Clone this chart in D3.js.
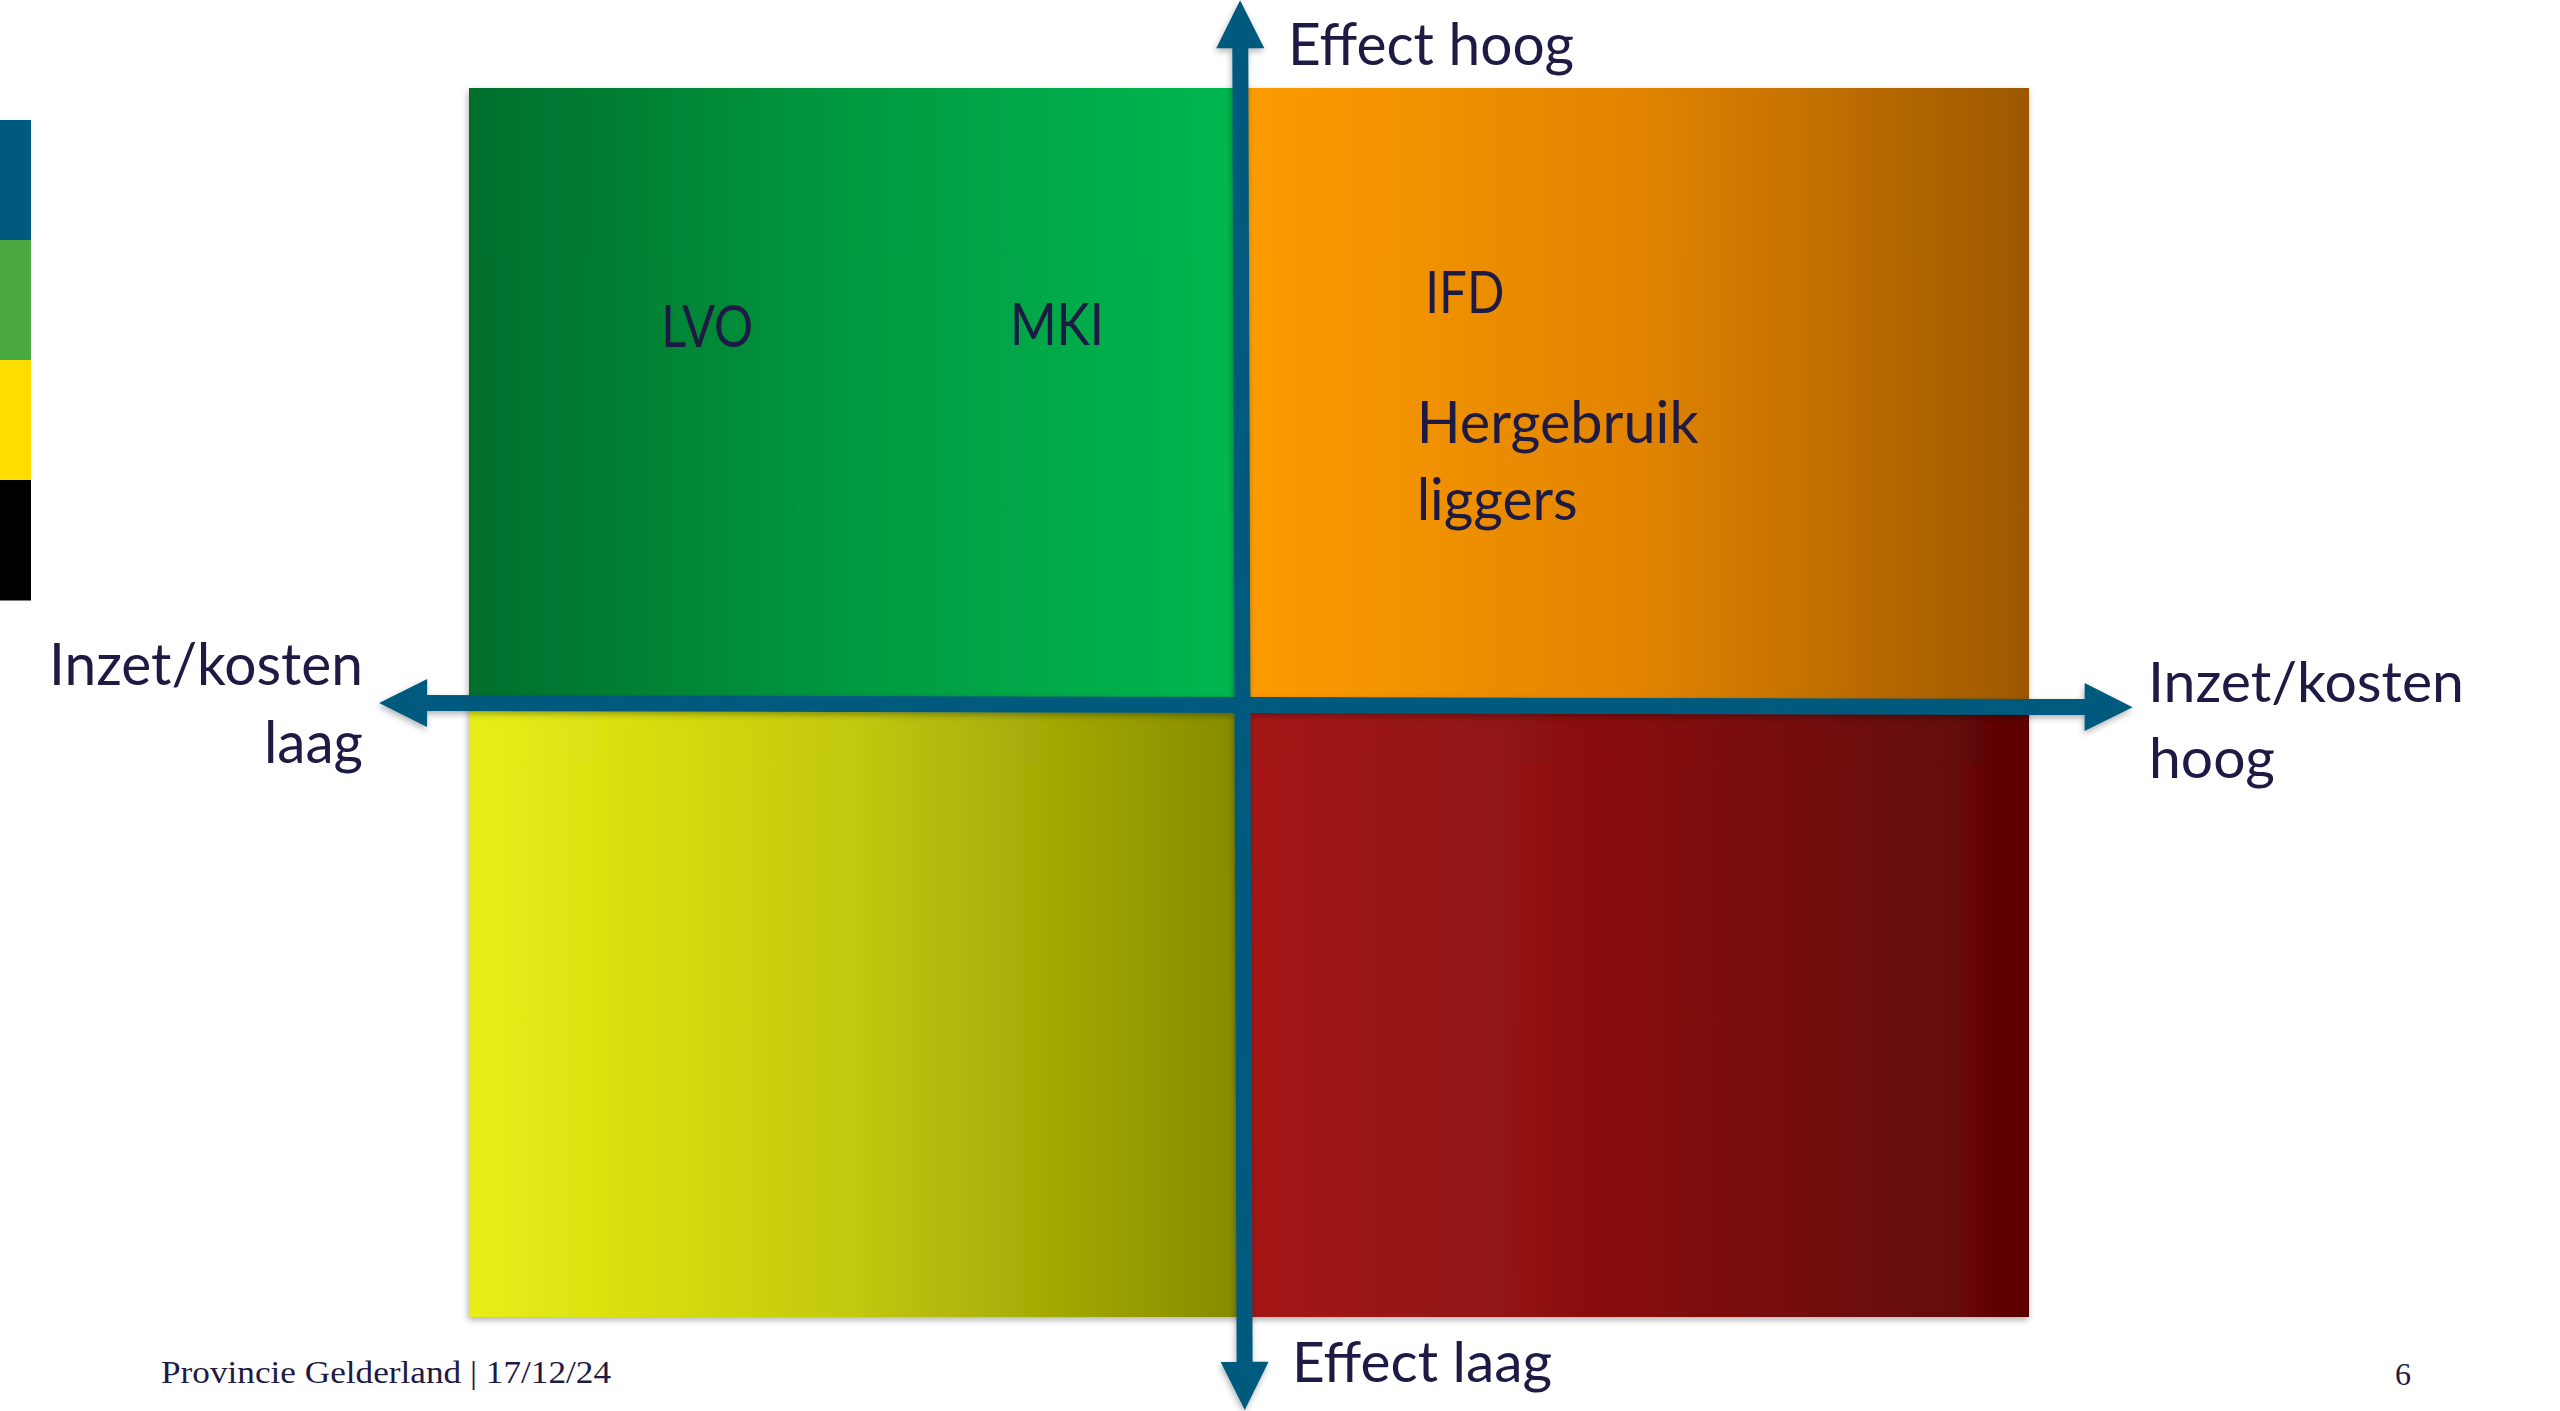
<!DOCTYPE html>
<html>
<head>
<meta charset="utf-8">
<script src="https://cdn.jsdelivr.net/npm/d3@7"></script>
<style>
    html, body { margin: 0; padding: 0; background: #ffffff; overflow: hidden; }
    .lbl { font-family: Lato, "Open Sans", sans-serif; fill: #1d1a43; }
    .foot { font-family: "Liberation Serif", "DejaVu Serif", serif; fill: #1d1a43; }
</style>
</head>
<body>
<div id="chart"></div>
<script>

// Chart data
// ============================================

// quadrants: inzet/kosten (x) and effect (y) on a -1..1 scale
var quadrantNames = ["Laag inzet, hoog effect", "Hoog inzet, hoog effect", "Laag inzet, laag effect", "Hoog inzet, laag effect"];
var quadrantX = [[-1, 0], [0, 1], [-1, 0], [0, 1]];
var quadrantY = [[0, 1], [0, 1], [-1, 0], [-1, 0]];
var quadrantColors = [
    ["#006e2c", "#009a40", "#00b84f"],
    ["#fc9c00", "#e28400", "#9c5800"],
    ["#e8ef14", "#c2c80c", "#858a00"],
    ["#a51616", "#861010", "#5c0505"]
];

// measures placed in the matrix (x = inzet, y = effect)
var itemNames = ["LVO", "MKI", "IFD", "Hergebruik", "liggers"];
var itemInzet = [-0.752, -0.302, 0.231, 0.220, 0.220];
var itemEffect = [0.581, 0.584, 0.636, 0.426, 0.301];

// axis labels
var axisLabels = ["Effect hoog", "Effect laag", "Inzet/kosten", "laag", "Inzet/kosten", "hoog"];

// footer
var footerText = "Provincie Gelderland | 17/12/24";
var pageNumber = "6";

// brand strip at the left
var brandColors = ["#005a80", "#4aa942", "#ffdd00", "#000000"];

// SVG set up
// ============================================
var svgWidth = 2560;
var svgHeight = 1411;
var arrowColor = "#005a7d";

var svg = d3.select("#chart")
    .append("svg")
    .attr("width", svgWidth)
    .attr("height", svgHeight);

var defs = svg.append("defs");

// soft drop shadow like the slide shapes
var shadow = defs.append("filter")
    .attr("id", "shadow")
    .attr("x", "-10%").attr("y", "-10%")
    .attr("width", "120%").attr("height", "120%");
shadow.append("feDropShadow")
    .attr("dx", -1).attr("dy", 3)
    .attr("stdDeviation", 3)
    .attr("flood-color", "#000")
    .attr("flood-opacity", 0.3);

// Scales (piecewise so the centre sits where the arrows cross)
// ============================================
var xScale = d3.scaleLinear().domain([-1, 0, 1]).range([469, 1244, 2029]);
var yScale = d3.scaleLinear().domain([-1, 0, 1]).range([1317, 706, 88]);

// brand strip
var brandScale = d3.scaleBand().domain(d3.range(brandColors.length)).range([120, 600]);
svg.append("g")
    .selectAll("rect")
    .data(brandColors)
    .enter()
    .append("rect")
    .attr("x", 0)
    .attr("y", (d, i) => brandScale(i))
    .attr("width", 31)
    .attr("height", brandScale.bandwidth() + 0.5)
    .attr("fill", d => d);

// Quadrants with horizontal gradients
// ============================================
quadrantColors.forEach((c, i) => {
    var grad = defs.append("linearGradient")
        .attr("id", "grad" + i)
        .attr("x1", "0%").attr("x2", "100%")
        .attr("y1", "0%").attr("y2", "0%");
    grad.selectAll("stop")
        .data(c)
        .enter()
        .append("stop")
        .attr("offset", (d, j) => (j * 100 / (c.length - 1)) + "%")
        .attr("stop-color", d => d);
});

var quadrants = quadrantNames.map((name, i) => ({
    name: name,
    x: quadrantX[i],
    y: quadrantY[i]
}));

svg.append("g")
    .selectAll("rect")
    .data(quadrants)
    .enter()
    .append("rect")
    .attr("x", d => xScale(d.x[0]))
    .attr("y", d => yScale(d.y[1]))
    .attr("width", d => xScale(d.x[1]) - xScale(d.x[0]))
    .attr("height", d => yScale(d.y[0]) - yScale(d.y[1]))
    .attr("fill", (d, i) => `url(#grad${i})`)
    .attr("filter", "url(#shadow)");

// Arrows (axes)
// ============================================
function arrowPath(x1, y1, x2, y2, stem, headLen, headHalf) {
    var dx = x2 - x1, dy = y2 - y1;
    var len = Math.sqrt(dx * dx + dy * dy);
    var ux = dx / len, uy = dy / len;
    var nx = -uy, ny = ux;
    var s = stem / 2;
    function p(t, o) { return [x1 + ux * t + nx * o, y1 + uy * t + ny * o]; }
    var pts = [
        p(0, 0), p(headLen, headHalf), p(headLen, s),
        p(len - headLen, s), p(len - headLen, headHalf), p(len, 0),
        p(len - headLen, -headHalf), p(len - headLen, -s),
        p(headLen, -s), p(headLen, -headHalf)
    ];
    return "M" + pts.map(q => q[0].toFixed(1) + "," + q[1].toFixed(1)).join("L") + "Z";
}

var arrowGroup = svg.append("g").attr("filter", "url(#shadow)");

// inzet/kosten axis (left <-> right)
arrowGroup.append("path")
    .attr("d", arrowPath(xScale(-1.116), yScale(0.005), xScale(1.132), yScale(-0.002), 16, 48, 24))
    .attr("fill", arrowColor);

// effect axis (top <-> bottom)
arrowGroup.append("path")
    .attr("d", arrowPath(xScale(-0.005), yScale(1.142), xScale(0.001), yScale(-1.152), 16, 48, 24))
    .attr("fill", arrowColor);

// Axis labels
// ============================================
var labelSpecs = [
    { text: axisLabels[0], x: 1288, y: 65, w: 286, size: 59 },
    { text: axisLabels[1], x: 1292, y: 1382, w: 260, size: 57 },
    { text: axisLabels[2], x: 49, y: 685, w: 314, size: 59 },
    { text: axisLabels[3], x: 264, y: 763, w: 99, size: 59 },
    { text: axisLabels[4], x: 2148, y: 702, w: 316, size: 57 },
    { text: axisLabels[5], x: 2149, y: 778, w: 126, size: 57 }
];

svg.append("g")
    .selectAll("text")
    .data(labelSpecs)
    .enter()
    .append("text")
    .attr("class", "lbl")
    .attr("x", d => d.x)
    .attr("y", d => d.y)
    .attr("font-size", d => d.size)
    .attr("textLength", d => d.w)
    .attr("lengthAdjust", "spacingAndGlyphs")
    .text(d => d.text);

// Items in the matrix
// ============================================
var itemWidths = [92, 94, 79, 282, 161];

svg.append("g")
    .selectAll("text")
    .data(itemNames)
    .enter()
    .append("text")
    .attr("class", "lbl")
    .attr("x", (d, i) => xScale(itemInzet[i]))
    .attr("y", (d, i) => yScale(itemEffect[i]))
    .attr("font-size", 59)
    .attr("textLength", (d, i) => itemWidths[i])
    .attr("lengthAdjust", "spacingAndGlyphs")
    .text(d => d);

// Footer
// ============================================
svg.append("text")
    .attr("class", "foot")
    .attr("x", 161)
    .attr("y", 1383)
    .attr("font-size", 31)
    .attr("textLength", 450)
    .attr("lengthAdjust", "spacingAndGlyphs")
    .text(footerText);

svg.append("text")
    .attr("class", "foot")
    .attr("x", 2395)
    .attr("y", 1385)
    .attr("font-size", 32)
    .text(pageNumber);

</script>
</body>
</html>
